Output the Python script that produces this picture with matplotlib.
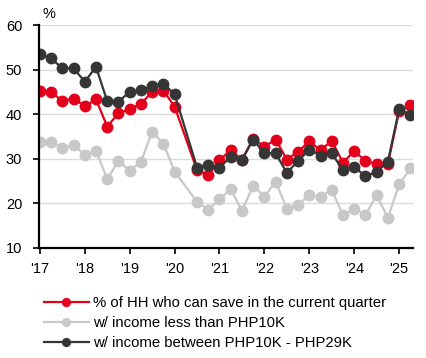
import numpy
import matplotlib.pyplot as plt

plt.rcParams['font.family'] = ['Liberation Sans', 'DejaVu Sans']

# quarters surveyed (no survey in 2020 Q2)
periods = ['2017Q1', '2017Q2', '2017Q3', '2017Q4',
           '2018Q1', '2018Q2', '2018Q3', '2018Q4',
           '2019Q1', '2019Q2', '2019Q3', '2019Q4',
           '2020Q1', '2020Q3', '2020Q4',
           '2021Q1', '2021Q2', '2021Q3', '2021Q4',
           '2022Q1', '2022Q2', '2022Q3', '2022Q4',
           '2023Q1', '2023Q2', '2023Q3', '2023Q4',
           '2024Q1', '2024Q2', '2024Q3', '2024Q4',
           '2025Q1', '2025Q2']

all_hh = [45.2, 44.9, 43.0, 43.5, 41.8, 43.3, 37.2, 40.2, 41.1, 42.3, 45.0, 45.3,
          41.7, 27.4, 26.3, 29.7, 31.9, 29.8, 34.5, 32.7, 34.3, 29.8, 31.6,
          33.9, 31.9, 34.0, 29.1, 31.7, 29.5, 28.8, 28.8, 40.7, 42.0]
low_income = [33.8, 33.8, 32.3, 33.1, 30.8, 31.8, 25.4, 29.5, 27.3, 29.3, 36.0, 33.4,
              27.1, 20.3, 18.5, 20.9, 23.2, 18.3, 23.9, 21.5, 24.8, 18.8, 19.6,
              21.8, 21.5, 23.0, 17.3, 18.8, 17.3, 21.8, 16.7, 24.2, 27.8]
mid_income = [53.4, 52.5, 50.3, 50.3, 47.3, 50.6, 42.9, 42.8, 45.0, 45.4, 46.3, 46.8,
              44.5, 28.0, 28.6, 28.0, 30.4, 29.7, 34.3, 31.2, 31.2, 26.8, 29.5,
              32.0, 30.7, 31.2, 27.4, 28.2, 26.0, 27.1, 29.3, 41.1, 39.8]

labels = ['% of HH who can save in the current quarter',
          'w/ income less than PHP10K',
          'w/ income between PHP10K - PHP29K']
years = numpy.arange(2017, 2026)
year_labels = ["'%02d" % (y % 100) for y in years]

x = numpy.array([int(p[:4]) + (int(p[5]) - 1) / 4 for p in periods])

fig = plt.figure(figsize=(4.27, 3.58), dpi=100)
ax = fig.add_axes([0.0913, 0.308, 0.876, 0.622])

series = [(all_hh, '#e2001a'), (low_income, '#c8c8c8'), (mid_income, '#353535')]
for (vals, col), lab in zip(series, labels):
    ax.plot(x, vals, color=col, lw=1.6, marker='o', ms=7.5, label=lab)

ax.set_xlim(2016.98, 2025.31)
ax.set_ylim(10, 60)
ax.set_yticks(numpy.arange(10, 61, 10))
ax.set_xticks(years)
ax.set_xticklabels(year_labels)
ax.grid(axis='y', color='#dcdcdc', lw=1)
ax.set_axisbelow(True)
for s in ['top', 'right']:
    ax.spines[s].set_visible(False)
for s in ['left', 'bottom']:
    ax.spines[s].set_linewidth(1.6)
ax.tick_params(axis='both', length=4, width=1.2, labelsize=10.5, colors='black')
ax.tick_params(axis='y', pad=8)
ax.tick_params(axis='x', pad=6)
ax.text(0.01, 1.02, '%', transform=ax.transAxes, fontsize=10.5, va='bottom')

fig.legend(loc='upper left', bbox_to_anchor=(0.103, 0.174), frameon=False,
           fontsize=10.7, handlelength=3.0, handletextpad=0.3, labelspacing=0.42,
           borderpad=0, borderaxespad=0, markerscale=0.75)

fig.savefig('out.png', dpi=100)
